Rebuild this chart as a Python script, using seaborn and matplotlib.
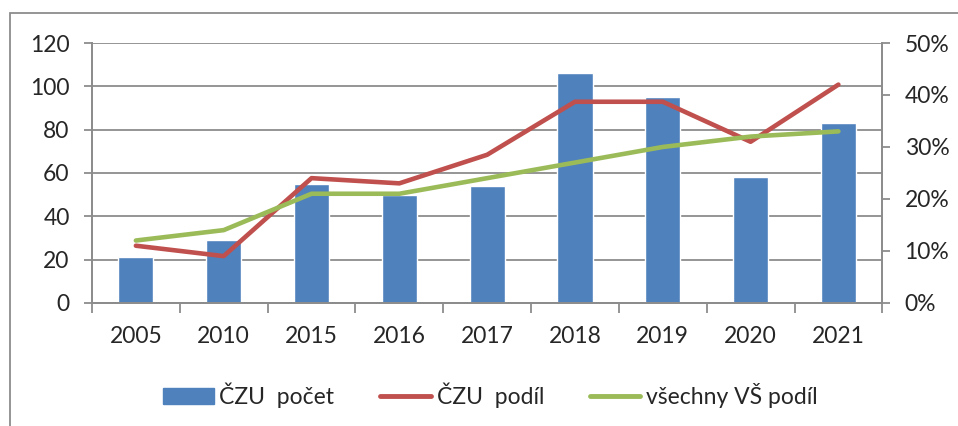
import numpy as np
import pandas as pd
import seaborn as sns
import matplotlib.pyplot as plt
from matplotlib.patches import Rectangle, Patch
from matplotlib.lines import Line2D
from matplotlib.ticker import PercentFormatter, FixedLocator

# data
years = ['2005', '2010', '2015', '2016', '2017', '2018', '2019', '2020', '2021']
czu_pocet = [21, 29, 55, 50, 54, 106, 95, 58, 83]
czu_podil = [0.11, 0.09, 0.24, 0.23, 0.285, 0.387, 0.387, 0.31, 0.42]
vse_podil = [0.12, 0.14, 0.21, 0.21, 0.24, 0.27, 0.30, 0.32, 0.33]

blue = '#4F81BD'
red = '#C0504D'
green = '#9BBB59'
gray = '#8C8C8C'
fs = 16.5

sns.set_style('white')
plt.rcParams['font.family'] = ['Lato', 'DejaVu Sans']

df = pd.DataFrame({'rok': years, 'pocet': czu_pocet,
                   'czu': czu_podil, 'vse': vse_podil, 'pos': np.arange(len(years))})

fig = plt.figure(figsize=(9.58, 4.26), dpi=100)
ax = fig.add_axes([0.096, 0.289, 0.825, 0.61])

sns.barplot(data=df, x='rok', y='pocet', color=blue, width=0.4, saturation=1, ax=ax, zorder=2)
ax.set_ylim(0, 120)
ax.set_yticks(range(0, 121, 20))
ax.set_xlim(-0.5, len(years) - 0.5)
ax.grid(axis='y', color=gray, linewidth=1.3, zorder=0)
ax.set_axisbelow(True)
ax.set_xlabel('')
ax.set_ylabel('')

ax2 = ax.twinx()
sns.lineplot(data=df, x='pos', y='czu', color=red, linewidth=3.3, ax=ax2, sort=False)
sns.lineplot(data=df, x='pos', y='vse', color=green, linewidth=3.3, ax=ax2, sort=False)
ax2.set_ylim(0, 0.5)
ax2.set_yticks(np.arange(0, 0.51, 0.1))
ax2.yaxis.set_major_formatter(PercentFormatter(1.0, decimals=0))
ax2.set_xlim(-0.5, len(years) - 0.5)
ax2.set_xlabel('')
ax2.set_ylabel('')

for a in (ax, ax2):
    a.spines['top'].set_visible(False)
    for s in ('left', 'bottom', 'right'):
        a.spines[s].set_color(gray)
        a.spines[s].set_linewidth(1.3)

ax.tick_params(axis='y', direction='out', length=6, width=1.3, color=gray, pad=10, labelsize=fs, left=True)
ax.tick_params(axis='x', which='major', length=0, pad=17, labelsize=fs)
ax.xaxis.set_minor_locator(FixedLocator(np.arange(-0.5, len(years), 1.0)))
ax.tick_params(axis='x', which='minor', direction='out', length=7, width=1.3, color=gray, bottom=True)
ax2.tick_params(axis='y', direction='out', length=6, width=1.3, color=gray, pad=10, labelsize=fs, right=True)

# outer chart frame
top = 1 - 13 / 426
fig.patches.append(Rectangle((10 / 958, -0.2), 1.5, 0.2 + top, transform=fig.transFigure,
                             fill=False, edgecolor=gray, linewidth=1.3))

handles = [Patch(color=blue), Line2D([], [], color=red, linewidth=3.5),
           Line2D([], [], color=green, linewidth=3.5)]
labels = ['ČZU  počet', 'ČZU  podíl', 'všechny VŠ podíl']
fig.legend(handles, labels, loc='center', bbox_to_anchor=(0.512, 0.073), ncol=3, frameon=False,
           fontsize=fs, handlelength=2.2, handletextpad=0.26, columnspacing=2.0)

fig.savefig('out.png', dpi=100)
